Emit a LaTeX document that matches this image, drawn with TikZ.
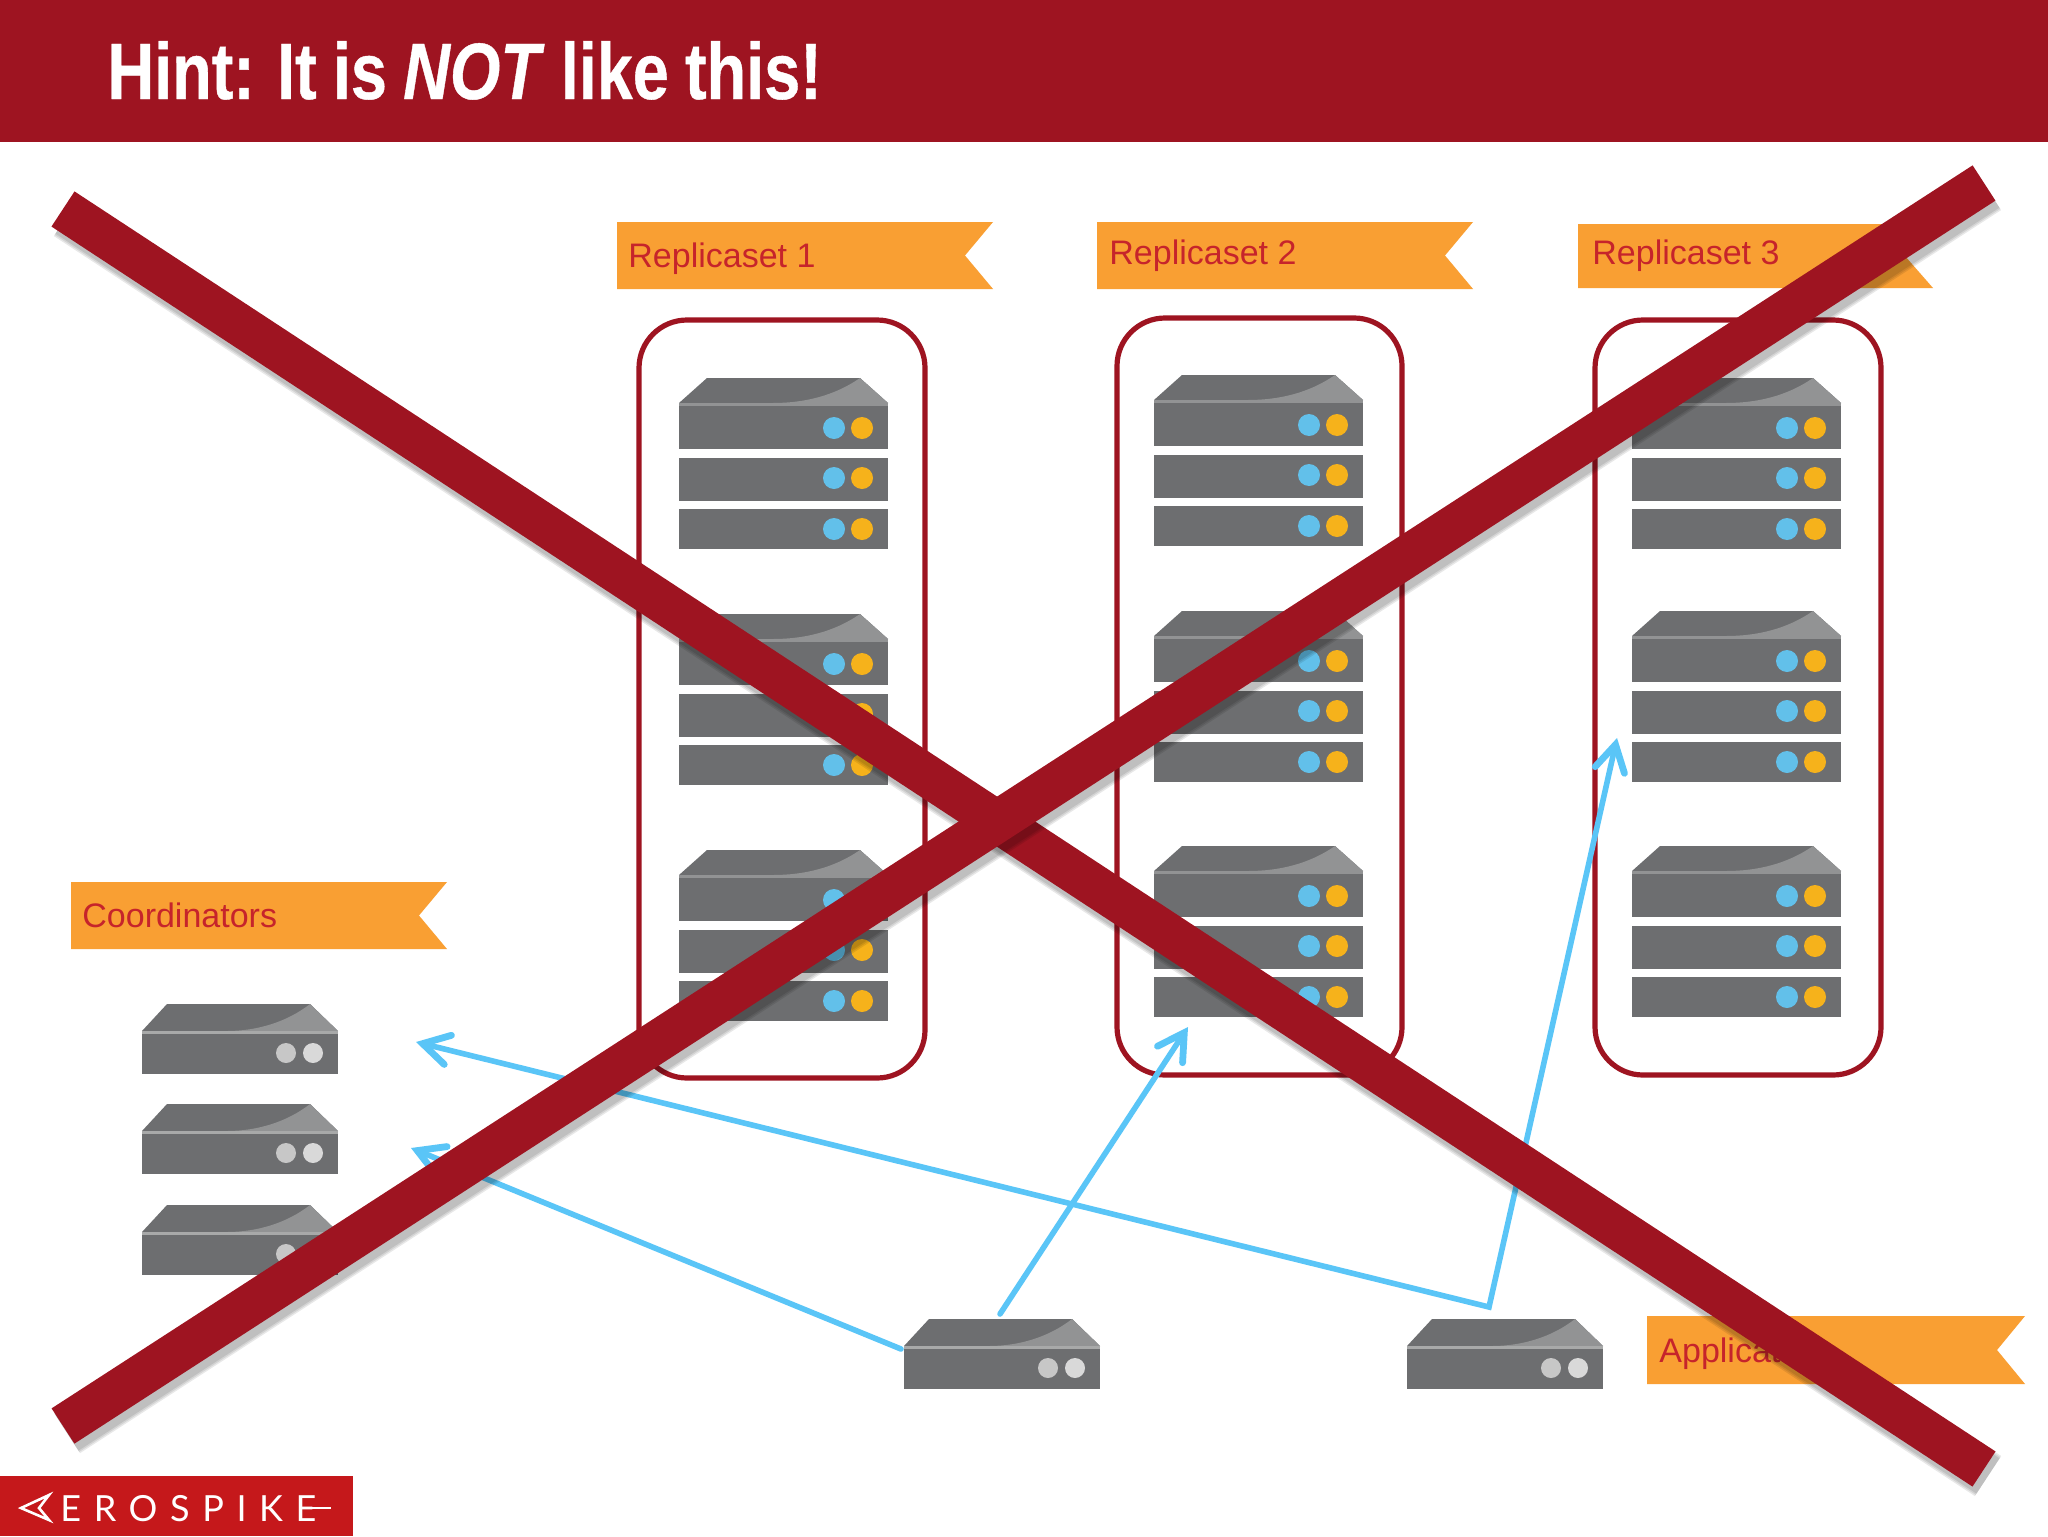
\documentclass[tikz,border=0pt]{standalone}
\usepackage{fontspec}
\setmainfont{Liberation Sans}
\newfontfamily\titlefont[FakeStretch=0.81,WordSpace=0.9,FakeBold=0.5]{Liberation Sans}
\newfontfamily\logofont{Lato}
\usetikzlibrary{arrows.meta}

\definecolor{barred}{HTML}{9E1421}
\definecolor{logored}{HTML}{C5181B}
\definecolor{ribbon}{HTML}{F99F33}
\definecolor{ribbontext}{HTML}{C6242B}
\definecolor{wireblue}{HTML}{5AC5F7}
\definecolor{ledblue}{HTML}{62C0EA}
\definecolor{ledamber}{HTML}{F6B21B}
\definecolor{srvgray}{HTML}{6D6E70}
\definecolor{srvlight}{HTML}{929394}

\tikzset{
  ribbonlabel/.style={anchor=base west,inner sep=0pt,text=ribbontext,font=\fontsize{17pt}{20pt}\selectfont},
  setframe/.style={draw=barred,line width=2.6pt,rounded corners=24pt},
  wire/.style={draw=wireblue,line width=2.8pt,line cap=round,line join=miter},
  crossbar/.style={draw=barred,line width=21pt},
  crossshadow/.style={draw=black,opacity=.09},
  rackstack/.pic={
    \fill[srvgray] (0,25) -- (28,0) -- (181,0) -- (209,25) -- cycle;
    \fill[srvlight] (181,0) .. controls (155,18) and (125,25) .. (94,25) -- (209,25) -- cycle;
    \fill[srvlight] (0,25) rectangle (209,28);
    \fill[srvgray] (0,28) rectangle (209,71);
    \fill[srvgray] (0,80) rectangle (209,123);
    \fill[srvgray] (0,131) rectangle (209,171);
    \foreach \ledy in {50,100,151} {
      \fill[ledblue] (155,\ledy) circle[radius=11];
      \fill[ledamber] (183,\ledy) circle[radius=11];
    }
  },
  appunit/.pic={
    \fill[srvgray] (0,27) -- (25,0) -- (168,0) -- (196,27) -- cycle;
    \fill[srvlight] (168,0) .. controls (145,18) and (115,27) .. (85,27) -- (196,27) -- cycle;
    \fill[srvlight!80!white] (0,27) rectangle (196,30);
    \fill[srvgray] (0,30) rectangle (196,70);
    \fill[black!22] (144,49) circle[radius=10];
    \fill[black!15] (171,49) circle[radius=10];
  }
}

\begin{document}
\begin{tikzpicture}[x=0.5pt,y=-0.5pt,>={Straight Barb[length=13pt,width=15pt,line width=3.4pt,line cap=round]}]
  \useasboundingbox (0,0) rectangle (2048,1536);
  \fill[white] (0,0) rectangle (2048,1536);

  % header and logo
  \fill[barred] (0,0) rectangle (2048,142);
  \node[anchor=base west,inner sep=0pt,text=white,font=\titlefont\bfseries\fontsize{40pt}{46pt}\selectfont] (title) at (107,99) {Hint: It is \textit{NOT} like this!};
  \fill[logored] (0,1476) rectangle (353,1536);
  \draw[white,line width=1.3pt] (49,1495) -- (21,1508) -- (49,1520) -- (39,1508) -- cycle;
  \node[anchor=base west,inner sep=0pt,text=white,font=\logofont\fontsize{18pt}{20pt}\selectfont\addfontfeature{LetterSpace=35}] (logotext) at (60,1521) {EROSPIKE};
  \coordinate (tailstart) at (304,1508);
  \coordinate (tailend) at (331,1508);
  \draw[white,line width=1.2pt] (tailstart) -- (tailend);

  % ribbons
  \foreach \rx/\ry/\rw/\rh/\tx/\ty/\rname/\rtext in {617/222/376/67/628/267/ribbonA/Replicaset 1,1097/222/376/67/1109/264/ribbonB/Replicaset 2,1578/224/355/64/1592/264/ribbonC/Replicaset 3,71/882/376/67/82/927/ribbonD/Coordinators,1647/1316/378/68/1659/1362/ribbonE/Application} {
    \fill[ribbon] (\rx,\ry) -- ++(\rw,0) -- ++(-28,\rh/2) -- ++(28,\rh/2) -- ++(-\rw,0) -- cycle;
    \node[ribbonlabel] (\rname) at (\tx,\ty) {\rtext};
  }

  % replica sets
  \draw[setframe] (639,320) rectangle (925,1078);
  \draw[setframe] (1117,318) rectangle (1402,1075);
  \draw[setframe] (1595,320) rectangle (1881,1075);

  \foreach \sx/\sy in {679/378,679/614,679/850,1154/375,1154/611,1154/846,1632/378,1632/611,1632/846}
    \pic at (\sx,\sy) {rackstack};
  \foreach \ux/\uy in {142/1004,142/1104,142/1205,904/1319,1407/1319}
    \pic at (\ux,\uy) {appunit};

  % connectors
  \coordinate (coordA) at (416,1042);
  \coordinate (coordB) at (411,1148);
  \coordinate (appA) at (901,1349);
  \coordinate (appB) at (1000,1314);
  \coordinate (appC) at (1489,1307);
  \coordinate (setB) at (1188,1027);
  \coordinate (setC) at (1617,738);
  \draw[->,wire] (appA) -- (coordB);
  \draw[->,wire] (appB) -- (setB);
  \draw[<->,wire] (coordA) -- (appC) -- (setC);

  % the big cross
  \coordinate (crossA) at (63,209);
  \coordinate (crossB) at (1984,1469);
  \coordinate (crossC) at (63,1426);
  \coordinate (crossD) at (1984,183);
  \foreach \sw in {21,22.5,24} {
    \draw[crossshadow,line width=\sw pt] ([shift={(4,7)}]crossA) -- ([shift={(4,7)}]crossB);
  }
  \draw[crossbar] (crossA) -- (crossB);
  \foreach \sw in {21,22.5,24} {
    \draw[crossshadow,line width=\sw pt] ([shift={(4,7)}]crossC) -- ([shift={(4,7)}]crossD);
  }
  \draw[crossbar] (crossC) -- (crossD);
\end{tikzpicture}
\end{document}
